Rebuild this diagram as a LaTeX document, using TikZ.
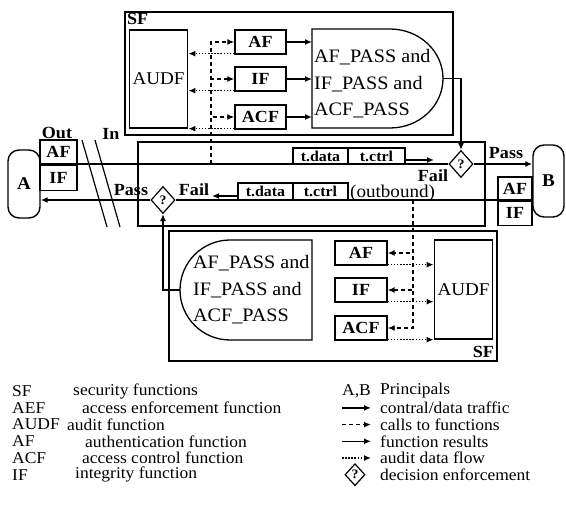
\documentclass[tikz,border=0pt]{standalone}
\usepackage{fontspec}
\setmainfont{Liberation Serif}[FakeStretch=1.06]
\usetikzlibrary{arrows.meta,positioning,shapes.geometric}

\tikzset{
	fnbox/.style={draw,line width=1.3pt,inner sep=0pt,font=\bfseries\fontsize{17}{17}\selectfont},
	pkt/.style={draw,line width=1.1pt,inner sep=0pt,outer sep=0pt,minimum height=16,font=\bfseries\fontsize{15}{15}\selectfont},
	principal/.style={draw,line width=1.4pt,rounded corners=11pt,font=\bfseries\fontsize{18}{18}\selectfont},
	decide/.style={diamond,draw,line width=1.2pt,inner sep=0pt,minimum width=24,minimum height=27,font=\bfseries\fontsize{13}{13}\selectfont},
	lbl/.style={inner sep=0pt,font=\bfseries\fontsize{17}{17}\selectfont},
	sfframe/.style={line width=1.5pt},
	traffic/.style={line width=1.4pt},
	call/.style={line width=1.5pt,dash pattern=on 4pt off 3pt},
	result/.style={line width=1.4pt},
	audit/.style={line width=1.3pt,dash pattern=on 1.5pt off 1.6pt},
	arr/.style={-{Latex[length=7pt,width=6pt]}},
	legtxt/.style={anchor=west,inner sep=0pt,font=\fontsize{16.5}{16.5}\selectfont},
}

\begin{document}
\begin{tikzpicture}[x=1pt,y=-1pt]
	\useasboundingbox (0,0) rectangle (566,508);

	\draw[sfframe] (125,12) rectangle (453,135);
	\draw[sfframe] (169,231) rectangle (497,361);
	\draw[sfframe] (138,142) rectangle (485,226);
	\node[lbl,anchor=north west] (sfT) at (127,13) {SF};
	\node[lbl,anchor=south east] (sfB) at (494,358) {SF};

	\node[principal,minimum width=32,minimum height=68] (A) at (24,184) {A};
	\node[principal,minimum width=31,minimum height=72] (B) at (548.5,181) {B};
	\node[fnbox,minimum width=37,minimum height=24] (aAF) at (58.5,152) {AF};
	\node[fnbox,minimum width=37,minimum height=25,below=0pt of aAF] (aIF) {IF};
	\node[fnbox,minimum width=34,minimum height=23] (bAF) at (515,188.5) {AF};
	\node[fnbox,minimum width=34,minimum height=24,below=0pt of bAF] (bIF) {IF};
	\node[lbl] (outL) at (57,133) {Out};
	\node[lbl] (inL) at (111,134) {In};
	\draw[line width=1.2pt] (82,140) -- (107,227);
	\draw[line width=1.2pt] (95,140) -- (120,227);

	\node[draw,line width=1.3pt,minimum width=57,minimum height=98,font=\fontsize{18}{18}\selectfont] (audfT) at (158.5,79) {AUDF};
	\foreach \n/\t/\y in {afT/AF/42,ifT/IF/79,acfT/ACF/117}{
		\node[fnbox,minimum width=51,minimum height=24] (\n) at (260.5,\y) {\t};
	}
	\draw[line width=1.3pt] (312,29) coordinate (passTnw) -- (390,29)
		.. controls (419.3,29) and (443,51.2) .. (443,78.5) coordinate (passTtip)
		.. controls (443,105.8) and (419.3,128) .. (390,128) -- (312,128) -- cycle;
	\node[anchor=west,align=left,inner sep=0pt,font=\fontsize{19}{26.5}\selectfont] (passT) at (314,84)
		{AF\_PASS and\\IF\_PASS and\\ACF\_PASS};

	\node[draw,line width=1.3pt,minimum width=57,minimum height=99,font=\fontsize{18}{18}\selectfont] (audfB) at (463.5,289.5) {AUDF};
	\foreach \n/\t/\y in {afB/AF/253,ifB/IF/290,acfB/ACF/328}{
		\node[fnbox,minimum width=52,minimum height=24] (\n) at (361,\y) {\t};
	}
	\draw[line width=1.3pt] (312,240) -- (230,240)
		.. controls (202.4,240) and (180,262.4) .. (180,290) coordinate (passBtip)
		.. controls (180,317.6) and (202.4,340) .. (230,340) -- (312,340) -- cycle;
	\node[anchor=west,align=left,inner sep=0pt,font=\fontsize{19}{26.5}\selectfont] (passB) at (193,290)
		{AF\_PASS and\\IF\_PASS and\\ACF\_PASS};

	\node[decide] (dec1) at (461,164) {?};
	\node[decide] (dec2) at (163,200) {?};

	\node[pkt,minimum width=55,anchor=south west] (dataI) at (293,164) {t.data};
	\node[pkt,minimum width=57,right=0pt of dataI] (ctrlI) {t.ctrl};
	\node[pkt,minimum width=55,minimum height=17,anchor=south west] (dataO) at (238,200) {t.data};
	\node[pkt,minimum width=55,minimum height=17,right=0pt of dataO] (ctrlO) {t.ctrl};
	\node[anchor=west,inner sep=0pt,font=\fontsize{18}{18}\selectfont] (outb) at (350,193) {(outbound)};

	\node[lbl] (passI) at (506,153) {Pass};
	\node[lbl] (failI) at (433,176) {Fail};
	\node[lbl] (passO) at (131,190) {Pass};
	\node[lbl] (failO) at (194,190) {Fail};

	\coordinate (inTip) at (434,160);
	\coordinate (outTip) at (212,196);
	\coordinate (tapT) at (211,164);
	\coordinate (tapB) at (413,200);

	\draw[traffic] (A.east |- dec1.west) -- (dec1.west);
	\draw[traffic,arr] (ctrlI.east |- inTip) -- (inTip);
	\draw[traffic,arr] (dec1.east) -- (dec1.east -| B.west);
	\draw[traffic] (B.west |- dec2.east) -- (dec2.east);
	\draw[traffic,arr] (dataO.west |- outTip) -- (outTip);
	\draw[traffic,arr] (dec2.west) -- (dec2.west -| A.east);

	\foreach \n in {afT,ifT,acfT}{
		\draw[call,arr] (tapT) |- (\n.west);
		\draw[result,arr] (\n.east) -- (\n.east -| passTnw);
		\draw[audit,arr] ([yshift=1pt]\n.south west) -- ([yshift=1pt]\n.south west -| audfT.east);
	}
	\foreach \n in {afB,ifB,acfB}{
		\draw[call,arr] (tapB) |- (\n.east);
		\draw[audit,arr] ([yshift=1pt]\n.south east) -- ([yshift=1pt]\n.south east -| audfB.west);
	}
	\draw[result,arr] (passTtip) -| (dec1.north);
	\draw[result,arr] (passBtip) -| (dec2.south);

	\foreach \ab/\dx/\txt [count=\r] in {SF/73/security functions,AEF/82/access enforcement function,AUDF/67/audit function,AF/85/authentication function,ACF/82/access control function,IF/75/integrity function}{
		\node[legtxt] (ab\r) at (12,374.5+16.7*\r) {\ab};
		\node[legtxt] (ds\r) at (\dx,374.5+16.7*\r) {\txt};
	}
	\node[legtxt] (abAB) at (342,391) {A,B};
	\node[legtxt] (dsAB) at (380,391) {Principals};
	\foreach \sty/\txt [count=\r] in {traffic/{contral/data traffic},call/calls to functions,result/function results,audit/audit data flow}{
		\coordinate (ls\r) at (342,391.2+16.7*\r);
		\coordinate (le\r) at (371,391.2+16.7*\r);
		\draw[\sty,arr] (ls\r) -- (le\r);
		\node[legtxt] (dl\r) at (380,391.2+16.7*\r) {\txt};
	}
	\node[decide,minimum width=20,minimum height=22] (decL) at (355,474.7) {?};
	\node[legtxt] (dsDec) at (380,474.7) {decision enforcement};
\end{tikzpicture}
\end{document}
